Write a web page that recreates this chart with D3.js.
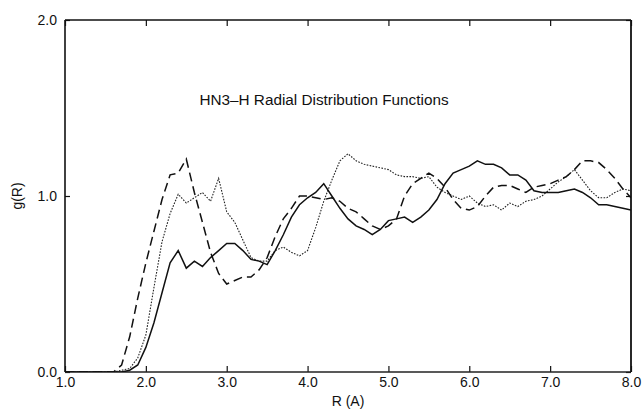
<!DOCTYPE html>
<html><head><meta charset="utf-8">
<script src="https://cdn.jsdelivr.net/npm/d3@7"></script>
<style>body{margin:0;background:#fff}svg{display:block}text{font-family:"Liberation Sans",Arial,sans-serif;fill:#111}</style>
</head><body><svg id="c" width="642" height="413"></svg>
<script>
const title = "HN3\u2013H Radial Distribution Functions";
const xLabel = "R (A)";
const yLabel = "g(R)";
const xTicks = [1,2,3,4,5,6,7,8];
const yTicks = [0,1,2];

const R = [1.0,1.5,1.6,1.7,1.8,1.9,2.0,2.1,2.2,2.3,2.4,2.5,2.6,2.7,2.8,2.9,3.0,3.1,3.2,3.3,3.4,3.5,3.6,3.7,3.8,3.9,4.0,4.1,4.2,4.3,4.4,4.5,4.6,4.7,4.8,4.9,5.0,5.1,5.2,5.3,5.4,5.5,5.6,5.7,5.8,5.9,6.0,6.1,6.2,6.3,6.4,6.5,6.6,6.7,6.8,6.9,7.0,7.1,7.2,7.3,7.4,7.5,7.6,7.7,7.8,7.9,8.0];
const solid = [0,0,0,0,0.01,0.04,0.14,0.28,0.45,0.62,0.69,0.59,0.63,0.60,0.65,0.69,0.73,0.73,0.69,0.64,0.63,0.61,0.69,0.78,0.88,0.95,0.99,1.02,1.07,1.00,0.93,0.87,0.83,0.81,0.78,0.81,0.86,0.87,0.88,0.85,0.88,0.92,0.98,1.07,1.13,1.15,1.17,1.20,1.18,1.18,1.16,1.12,1.12,1.09,1.03,1.02,1.02,1.02,1.03,1.04,1.02,0.99,0.95,0.95,0.94,0.93,0.92];
const dotted = [0,0,0,0.01,0.02,0.08,0.21,0.48,0.74,0.90,1.01,0.96,0.99,1.02,0.97,1.10,0.91,0.85,0.75,0.65,0.63,0.63,0.69,0.71,0.68,0.66,0.69,0.82,0.97,1.09,1.20,1.24,1.20,1.18,1.17,1.16,1.15,1.12,1.11,1.11,1.10,1.11,1.05,1.02,1.00,0.98,1.00,0.96,0.94,0.95,0.92,0.96,0.94,0.97,0.98,1.00,1.04,1.08,1.11,1.15,1.09,1.03,0.99,0.99,1.02,1.04,1.03];
const dashed = [0,0,0,0.04,0.20,0.42,0.62,0.80,0.98,1.12,1.13,1.21,1.02,0.85,0.68,0.56,0.50,0.52,0.54,0.54,0.58,0.65,0.77,0.87,0.93,1.00,1.00,0.99,0.98,0.99,0.97,0.93,0.91,0.87,0.83,0.81,0.83,0.87,1.00,1.07,1.10,1.13,1.10,1.05,0.98,0.93,0.92,0.94,1.00,1.05,1.06,1.06,1.04,1.02,1.05,1.06,1.07,1.09,1.11,1.15,1.20,1.20,1.19,1.15,1.10,1.04,0.99];

const svg = d3.select("#c");
const m = {l:65, r:631, t:20, b:372};
const x = d3.scaleLinear().domain([1,8]).range([m.l, m.r]);
const y = d3.scaleLinear().domain([0,2]).range([m.b, m.t]);
const fmt = d3.format(".1f");

const gb = svg.append("g").attr("transform",`translate(0,${m.b})`)
  .call(d3.axisBottom(x).tickValues(xTicks).tickFormat(fmt).tickSize(-6).tickPadding(7));
gb.select(".domain").remove();
gb.selectAll("line").attr("stroke","#111").attr("stroke-width",1.2);
gb.selectAll("text").style("font-size","14px").attr("dy","0.55em");
const gt = svg.append("g").attr("transform",`translate(0,${m.t})`)
  .call(d3.axisTop(x).tickValues(xTicks).tickFormat("").tickSize(-6));
gt.select(".domain").remove();
gt.selectAll("line").attr("stroke","#111").attr("stroke-width",1.2);
const gl = svg.append("g").attr("transform",`translate(${m.l},0)`)
  .call(d3.axisLeft(y).tickValues(yTicks).tickFormat(fmt).tickSize(-5).tickPadding(8));
gl.select(".domain").remove();
gl.selectAll("line").attr("stroke","#111").attr("stroke-width",1.2);
gl.selectAll("text").style("font-size","14px");
const gr = svg.append("g").attr("transform",`translate(${m.r},0)`)
  .call(d3.axisRight(y).tickValues(yTicks).tickFormat("").tickSize(-5));
gr.select(".domain").remove();
gr.selectAll("line").attr("stroke","#111").attr("stroke-width",1.2);

svg.append("line").attr("x1",m.l).attr("x2",m.r).attr("y1",m.b).attr("y2",m.b).attr("stroke","#222").attr("stroke-width",1.3);
svg.append("line").attr("x1",m.l).attr("x2",m.r).attr("y1",m.t).attr("y2",m.t).attr("stroke","#111").attr("stroke-width",1.6);
svg.append("line").attr("x1",m.l).attr("x2",m.l).attr("y1",m.t).attr("y2",m.b).attr("stroke","#111").attr("stroke-width",1.6);
svg.append("line").attr("x1",m.r).attr("x2",m.r).attr("y1",m.t).attr("y2",m.b).attr("stroke","#111").attr("stroke-width",1.8);

const line = d3.line().x((d,i)=>x(R[i])).y(d=>y(d));
svg.append("defs").append("clipPath").attr("id","cp").append("rect")
  .attr("x",m.l).attr("y",m.t).attr("width",m.r-m.l).attr("height",m.b-m.t);
const plot = svg.append("g").attr("clip-path","url(#cp)");
plot.append("path").datum(dotted).attr("d",line).attr("fill","none").attr("stroke","#222").attr("stroke-width",1.1).attr("stroke-dasharray","1.6,1.4");
plot.append("path").datum(dashed).attr("d",line).attr("fill","none").attr("stroke","#111").attr("stroke-width",1.5).attr("stroke-dasharray","9,5");
plot.append("path").datum(solid).attr("d",line).attr("fill","none").attr("stroke","#111").attr("stroke-width",1.5);

svg.append("text").attr("x",324).attr("y",101).attr("text-anchor","middle").attr("dominant-baseline","middle")
  .style("font-size","15.3px").text(title);
svg.append("text").attr("x",348).attr("y",402).attr("text-anchor","middle").attr("dominant-baseline","middle")
  .style("font-size","14px").text(xLabel);
svg.append("text").attr("transform","translate(18,196) rotate(-90)").attr("text-anchor","middle").attr("dominant-baseline","middle")
  .style("font-size","14px").text(yLabel);
</script></body></html>
